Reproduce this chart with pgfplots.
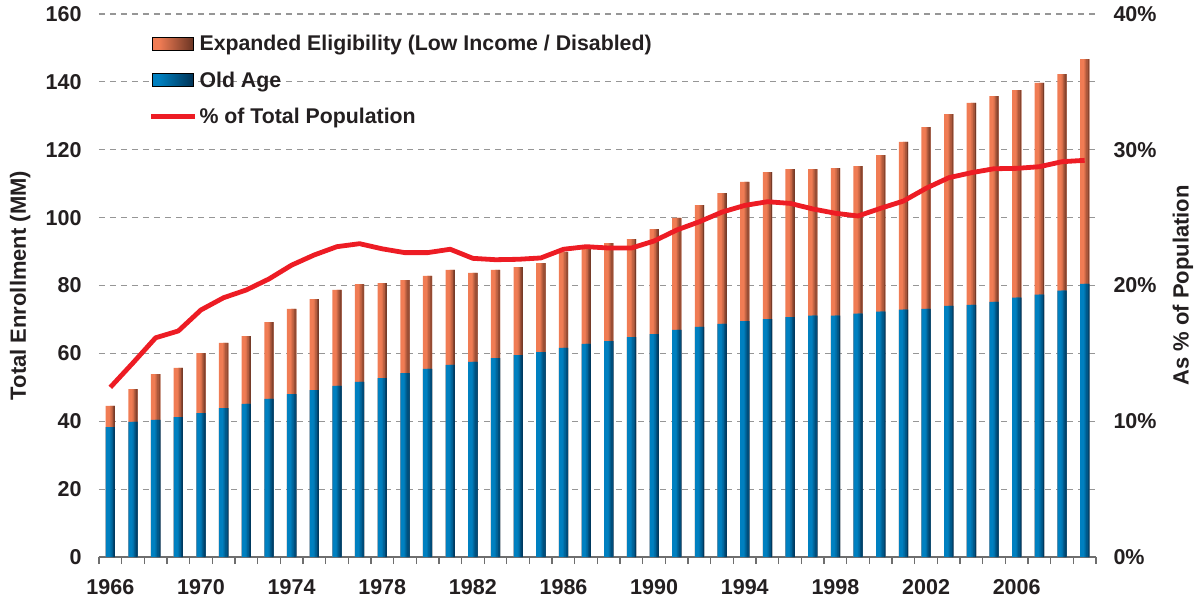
\documentclass[border=0pt]{standalone}
\usepackage{pgfplots}
\usepackage{pgfplotstable}
\pgfplotsset{compat=1.18}
\usepackage{fontspec}
\setmainfont{Liberation Sans}

\definecolor{txt}{HTML}{231F20}
\definecolor{bL}{RGB}{0,128,192}
\definecolor{bD}{RGB}{0,50,85}
\definecolor{oL}{RGB}{240,124,84}
\definecolor{oD}{RGB}{105,52,35}
\definecolor{redl}{RGB}{237,28,36}
\definecolor{gridc}{RGB}{150,150,150}
\definecolor{axc}{RGB}{110,110,110}

\pgfdeclarehorizontalshading{blueleg}{100bp}{color(0bp)=(bL); color(25bp)=(bL); color(33bp)=(bL); color(75bp)=(bD); color(100bp)=(bD)}
\pgfdeclarehorizontalshading{orangeleg}{100bp}{color(0bp)=(oL); color(25bp)=(oL); color(33bp)=(oL); color(75bp)=(oD); color(100bp)=(oD)}

\pgfplotstableread{
year old exp tot pct
1966 38.3 6.2 44.5 12.5
1967 39.8 9.7 49.5 14.3
1968 40.4 13.5 53.9 16.15
1969 41.2 14.5 55.7 16.65
1970 42.4 17.7 60.1 18.2
1971 43.9 19.2 63.1 19.1
1972 45.1 20.0 65.1 19.67
1973 46.6 22.6 69.2 20.48
1974 48.0 25.1 73.1 21.5
1975 49.2 26.8 76.0 22.25
1976 50.4 28.3 78.7 22.86
1977 51.6 28.8 80.4 23.08
1978 52.7 28.0 80.7 22.7
1979 54.2 27.4 81.6 22.42
1980 55.4 27.4 82.8 22.42
1981 56.6 28.0 84.6 22.67
1982 57.5 26.2 83.7 22.0
1983 58.6 26.0 84.6 21.9
1984 59.5 25.9 85.4 21.93
1985 60.4 26.2 86.6 22.03
1986 61.6 28.3 89.9 22.67
1987 62.8 28.4 91.2 22.86
1988 63.6 28.9 92.5 22.76
1989 64.8 28.9 93.7 22.76
1990 65.7 30.9 96.6 23.28
1991 66.9 33.0 99.9 24.09
1992 67.8 35.9 103.7 24.7
1993 68.7 38.5 107.2 25.41
1994 69.5 41.0 110.5 25.9
1995 70.1 43.3 113.4 26.17
1996 70.7 43.6 114.3 26.05
1997 71.1 43.2 114.3 25.64
1998 71.1 43.5 114.6 25.32
1999 71.7 43.5 115.2 25.12
2000 72.3 46.1 118.4 25.69
2001 72.9 49.4 122.3 26.22
2002 73.1 53.6 126.7 27.16
2003 74.0 56.5 130.5 27.94
2004 74.3 59.5 133.8 28.31
2005 75.2 60.6 135.8 28.6
2006 76.4 61.2 137.6 28.63
2007 77.3 62.4 139.7 28.75
2008 78.5 63.8 142.3 29.12
2009 80.5 66.2 146.7 29.22
}\data

% one bar drawn as a light base and thin strips darkening to the right
\newcommand{\gradbars}[3]{%
\addplot[ybar, bar width=9.3pt, bar shift=0pt, fill=#2, draw=none, forget plot] table[x=year,y=#1]{\data};
\addplot[ybar, bar width=0.95pt, bar shift=-0.07pt, fill=#3!10!#2, draw=none, forget plot] table[x=year,y=#1]{\data};
\addplot[ybar, bar width=0.95pt, bar shift=0.79pt, fill=#3!26!#2, draw=none, forget plot] table[x=year,y=#1]{\data};
\addplot[ybar, bar width=0.95pt, bar shift=1.65pt, fill=#3!42!#2, draw=none, forget plot] table[x=year,y=#1]{\data};
\addplot[ybar, bar width=0.95pt, bar shift=2.51pt, fill=#3!58!#2, draw=none, forget plot] table[x=year,y=#1]{\data};
\addplot[ybar, bar width=0.95pt, bar shift=3.37pt, fill=#3!74!#2, draw=none, forget plot] table[x=year,y=#1]{\data};
\addplot[ybar, bar width=0.9pt, bar shift=4.2pt, fill=#3!90!#2, draw=none, forget plot] table[x=year,y=#1]{\data};
}

\begin{document}
\begin{tikzpicture}
\begin{axis}[
  name=ax,
  at={(0,0)}, anchor=south west,
  scale only axis, width=997pt, height=543pt,
  xmin=1965.5, xmax=2009.5, ymin=0, ymax=160,
  axis x line*=bottom, axis y line*=left,
  y axis line style={draw=none},
  x axis line style={draw=axc, line width=1.6pt, -},
  xtick={1966,1970,...,2006},
  minor xtick={1965.5,1966.5,...,2009.5},
  major tick length=0pt, minor tick length=7pt,
  tick align=outside,
  xtick style={draw=axc, line width=1.3pt},
  ytick={0,20,...,160},
  ytick style={draw=none},
  ymajorgrids,
  grid style={draw=gridc, line width=1.2pt, dash pattern=on 6pt off 5pt},
  tick label style={font=\fontsize{21.5}{24}\selectfont\bfseries, text=txt},
  /pgf/number format/assume math mode=true,
  xticklabel style={/pgf/number format/1000 sep={}, yshift=-19pt},
  yticklabel style={xshift=-14pt},
  ylabel={Total Enrollment (MM)},
  every axis y label/.style={at={(axis description cs:-0.079,0.5)}, rotate=90, anchor=center,
     font=\fontsize{22}{24}\selectfont\bfseries, text=txt},
  legend style={at={(axis description cs:0.05,0.965)}, anchor=north west, draw=none, fill=none,
     font=\fontsize{21.3}{24}\selectfont\bfseries, text=txt, row sep=15.5pt, inner sep=0pt},
  legend cell align=left,
]
\addlegendimage{legend image code/.code={\shade[shading=orangeleg] (0pt,-6.5pt) rectangle (41pt,6.5pt);}}
\addlegendentry{Expanded Eligibility (Low Income / Disabled)}
\addlegendimage{legend image code/.code={\shade[shading=blueleg] (0pt,-6.5pt) rectangle (41pt,6.5pt);}}
\addlegendentry{Old Age}
\addlegendimage{legend image code/.code={\draw[redl, line width=4.5pt] (-1pt,0pt) -- (43pt,0pt);}}
\addlegendentry{\% of Total Population}
\gradbars{tot}{oL}{oD}
\gradbars{old}{bL}{bD}
\end{axis}
\begin{axis}[
  at={(0,0)}, anchor=south west,
  scale only axis, width=997pt, height=543pt,
  xmin=1965.5, xmax=2009.5, ymin=0, ymax=40,
  axis x line=none, axis y line*=right,
  xtick=\empty,
  y axis line style={draw=none},
  ytick={0,10,...,40},
  ytick style={draw=none},
  yticklabel={\pgfmathprintnumber{\tick}\%},
  tick label style={font=\fontsize{21.5}{24}\selectfont\bfseries, text=txt},
  /pgf/number format/assume math mode=true,
  yticklabel style={xshift=14pt},
  ylabel={As \% of Population},
  every axis y label/.style={at={(axis description cs:1.0873,0.5)}, rotate=90, anchor=center,
     font=\fontsize{22}{24}\selectfont\bfseries, text=txt},
]
\addplot[redl, line width=4.8pt, line join=round] table[x=year, y=pct]{\data};
\end{axis}
\pgfresetboundingbox
\path (ax.south west) ++(-99pt,-48pt) rectangle ++(1201pt,605pt);
\end{tikzpicture}
\end{document}
